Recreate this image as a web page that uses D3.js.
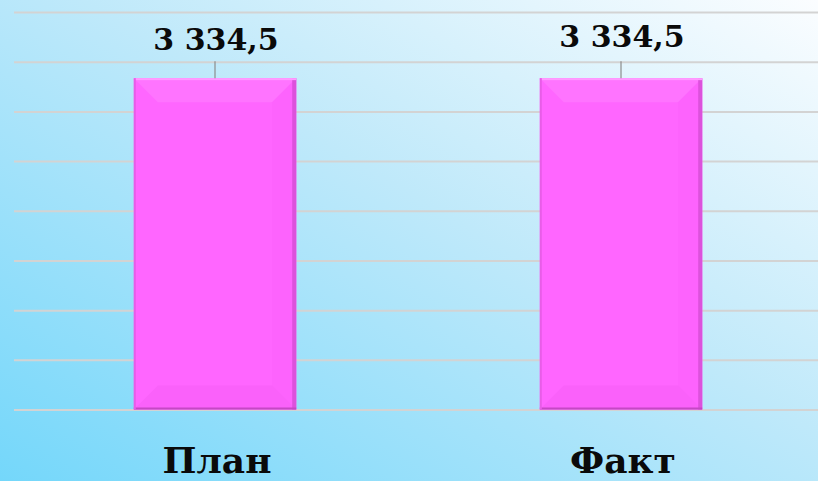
<!DOCTYPE html>
<html>
<head>
<meta charset="utf-8">
<script src="https://cdn.jsdelivr.net/npm/d3@7"></script>
<style>
  html, body { margin: 0; padding: 0; overflow: hidden; }
  svg { display: block; }
</style>
</head>
<body>
<svg width="818" height="481"></svg>
<script>
  const categories = ['План', 'Факт'];
  const values = [3334.5, 3334.5];
  const tickValues = [0, 500, 1000, 1500, 2000, 2500, 3000, 3500, 4000];

  const svg = d3.select('svg');
  const width = +svg.attr('width');
  const height = +svg.attr('height');

  const ruFormat = d3.formatLocale({
    decimal: ',',
    thousands: ' ',
    grouping: [3],
    currency: ['', '']
  }).format(',.1f');

  // background gradient
  const defs = svg.append('defs');
  const bg = defs.append('linearGradient')
    .attr('id', 'bg')
    .attr('x1', '0%').attr('y1', '100%')
    .attr('x2', '100%').attr('y2', '0%');
  bg.append('stop').attr('offset', '0%').attr('stop-color', '#74d7fa');
  bg.append('stop').attr('offset', '55%').attr('stop-color', '#bfe9fa');
  bg.append('stop').attr('offset', '100%').attr('stop-color', '#fbfdff');

  svg.append('rect')
    .attr('width', width)
    .attr('height', height)
    .attr('fill', 'url(#bg)');

  const xScale = d3.scaleBand()
    .domain(categories)
    .range([12, 824])
    .paddingInner(0.6)
    .paddingOuter(0.3);

  const yScale = d3.scaleLinear()
    .domain([0, 4000])
    .range([409.5, 12]);

  // gridlines
  const yAxis = d3.axisLeft(yScale)
    .tickValues(tickValues)
    .tickSize(-(width - 14))
    .tickFormat('');
  const yAxisG = svg.append('g')
    .attr('transform', 'translate(14,0)')
    .call(yAxis);
  yAxisG.select('.domain').remove();
  yAxisG.selectAll('.tick line')
    .attr('stroke', '#d3d3d3')
    .attr('stroke-width', 2);

  // bars with a soft bevel
  const bev = 24;
  const bars = svg.append('g').selectAll('g').data(categories).enter().append('g');

  bars.each(function(c, i) {
    const g = d3.select(this);
    const x0 = xScale(c);
    const x1 = x0 + xScale.bandwidth();
    const y0 = yScale(values[i]);
    const y1 = yScale(0);

    g.append('rect')
      .attr('x', x0).attr('y', y0)
      .attr('width', x1 - x0).attr('height', y1 - y0)
      .attr('fill', '#ff66ff');

    g.append('path')
      .attr('d', `M${x0},${y0}L${x1},${y0}L${x1 - bev},${y0 + bev}L${x0 + bev},${y0 + bev}Z`)
      .attr('fill', '#ff74ff');
    g.append('path')
      .attr('d', `M${x1},${y0}L${x1},${y1}L${x1 - bev},${y1 - bev}L${x1 - bev},${y0 + bev}Z`)
      .attr('fill', '#fd63fd');
    g.append('path')
      .attr('d', `M${x0},${y1}L${x1},${y1}L${x1 - bev},${y1 - bev}L${x0 + bev},${y1 - bev}Z`)
      .attr('fill', '#fa61fa');

    // thin edges
    g.append('rect')
      .attr('x', x1 - 4).attr('y', y0)
      .attr('width', 4).attr('height', y1 - y0)
      .attr('fill', '#dc52dc');
    g.append('rect')
      .attr('x', x0).attr('y', y1 - 2)
      .attr('width', x1 - x0).attr('height', 2)
      .attr('fill', '#c448c4');
    g.append('rect')
      .attr('x', x0).attr('y', y0)
      .attr('width', x1 - x0).attr('height', 2)
      .attr('fill', '#ff9cff');
    g.append('rect')
      .attr('x', x0).attr('y', y0)
      .attr('width', 2).attr('height', y1 - y0)
      .attr('fill', '#e85ce8');
  });

  // leader lines
  svg.append('g').selectAll('line').data(categories).enter().append('line')
    .attr('x1', c => xScale(c) + xScale.bandwidth() / 2)
    .attr('x2', c => xScale(c) + xScale.bandwidth() / 2)
    .attr('y1', (c, i) => yScale(values[i]) - 17)
    .attr('y2', (c, i) => yScale(values[i]))
    .attr('stroke', '#8c8c8c')
    .attr('stroke-width', 1.2);

  // value labels
  svg.append('g').selectAll('text').data(categories).enter().append('text')
    .attr('x', c => xScale(c) + xScale.bandwidth() / 2 + 1)
    .attr('y', (c, i) => yScale(values[i]) - 28 - i * 3)
    .attr('text-anchor', 'middle')
    .attr('font-family', '"DejaVu Serif", serif')
    .attr('font-weight', 'bold')
    .attr('font-size', 30)
    .attr('fill', '#0a0a0a')
    .text((c, i) => ruFormat(values[i]));

  // category labels
  svg.append('g').selectAll('text').data(categories).enter().append('text')
    .attr('x', c => xScale(c) + xScale.bandwidth() / 2 + 2)
    .attr('y', 473)
    .attr('text-anchor', 'middle')
    .attr('font-family', '"DejaVu Serif", serif')
    .attr('font-weight', 'bold')
    .attr('font-size', 36)
    .attr('fill', '#0a0a0a')
    .text(c => c);
</script>
</body>
</html>
